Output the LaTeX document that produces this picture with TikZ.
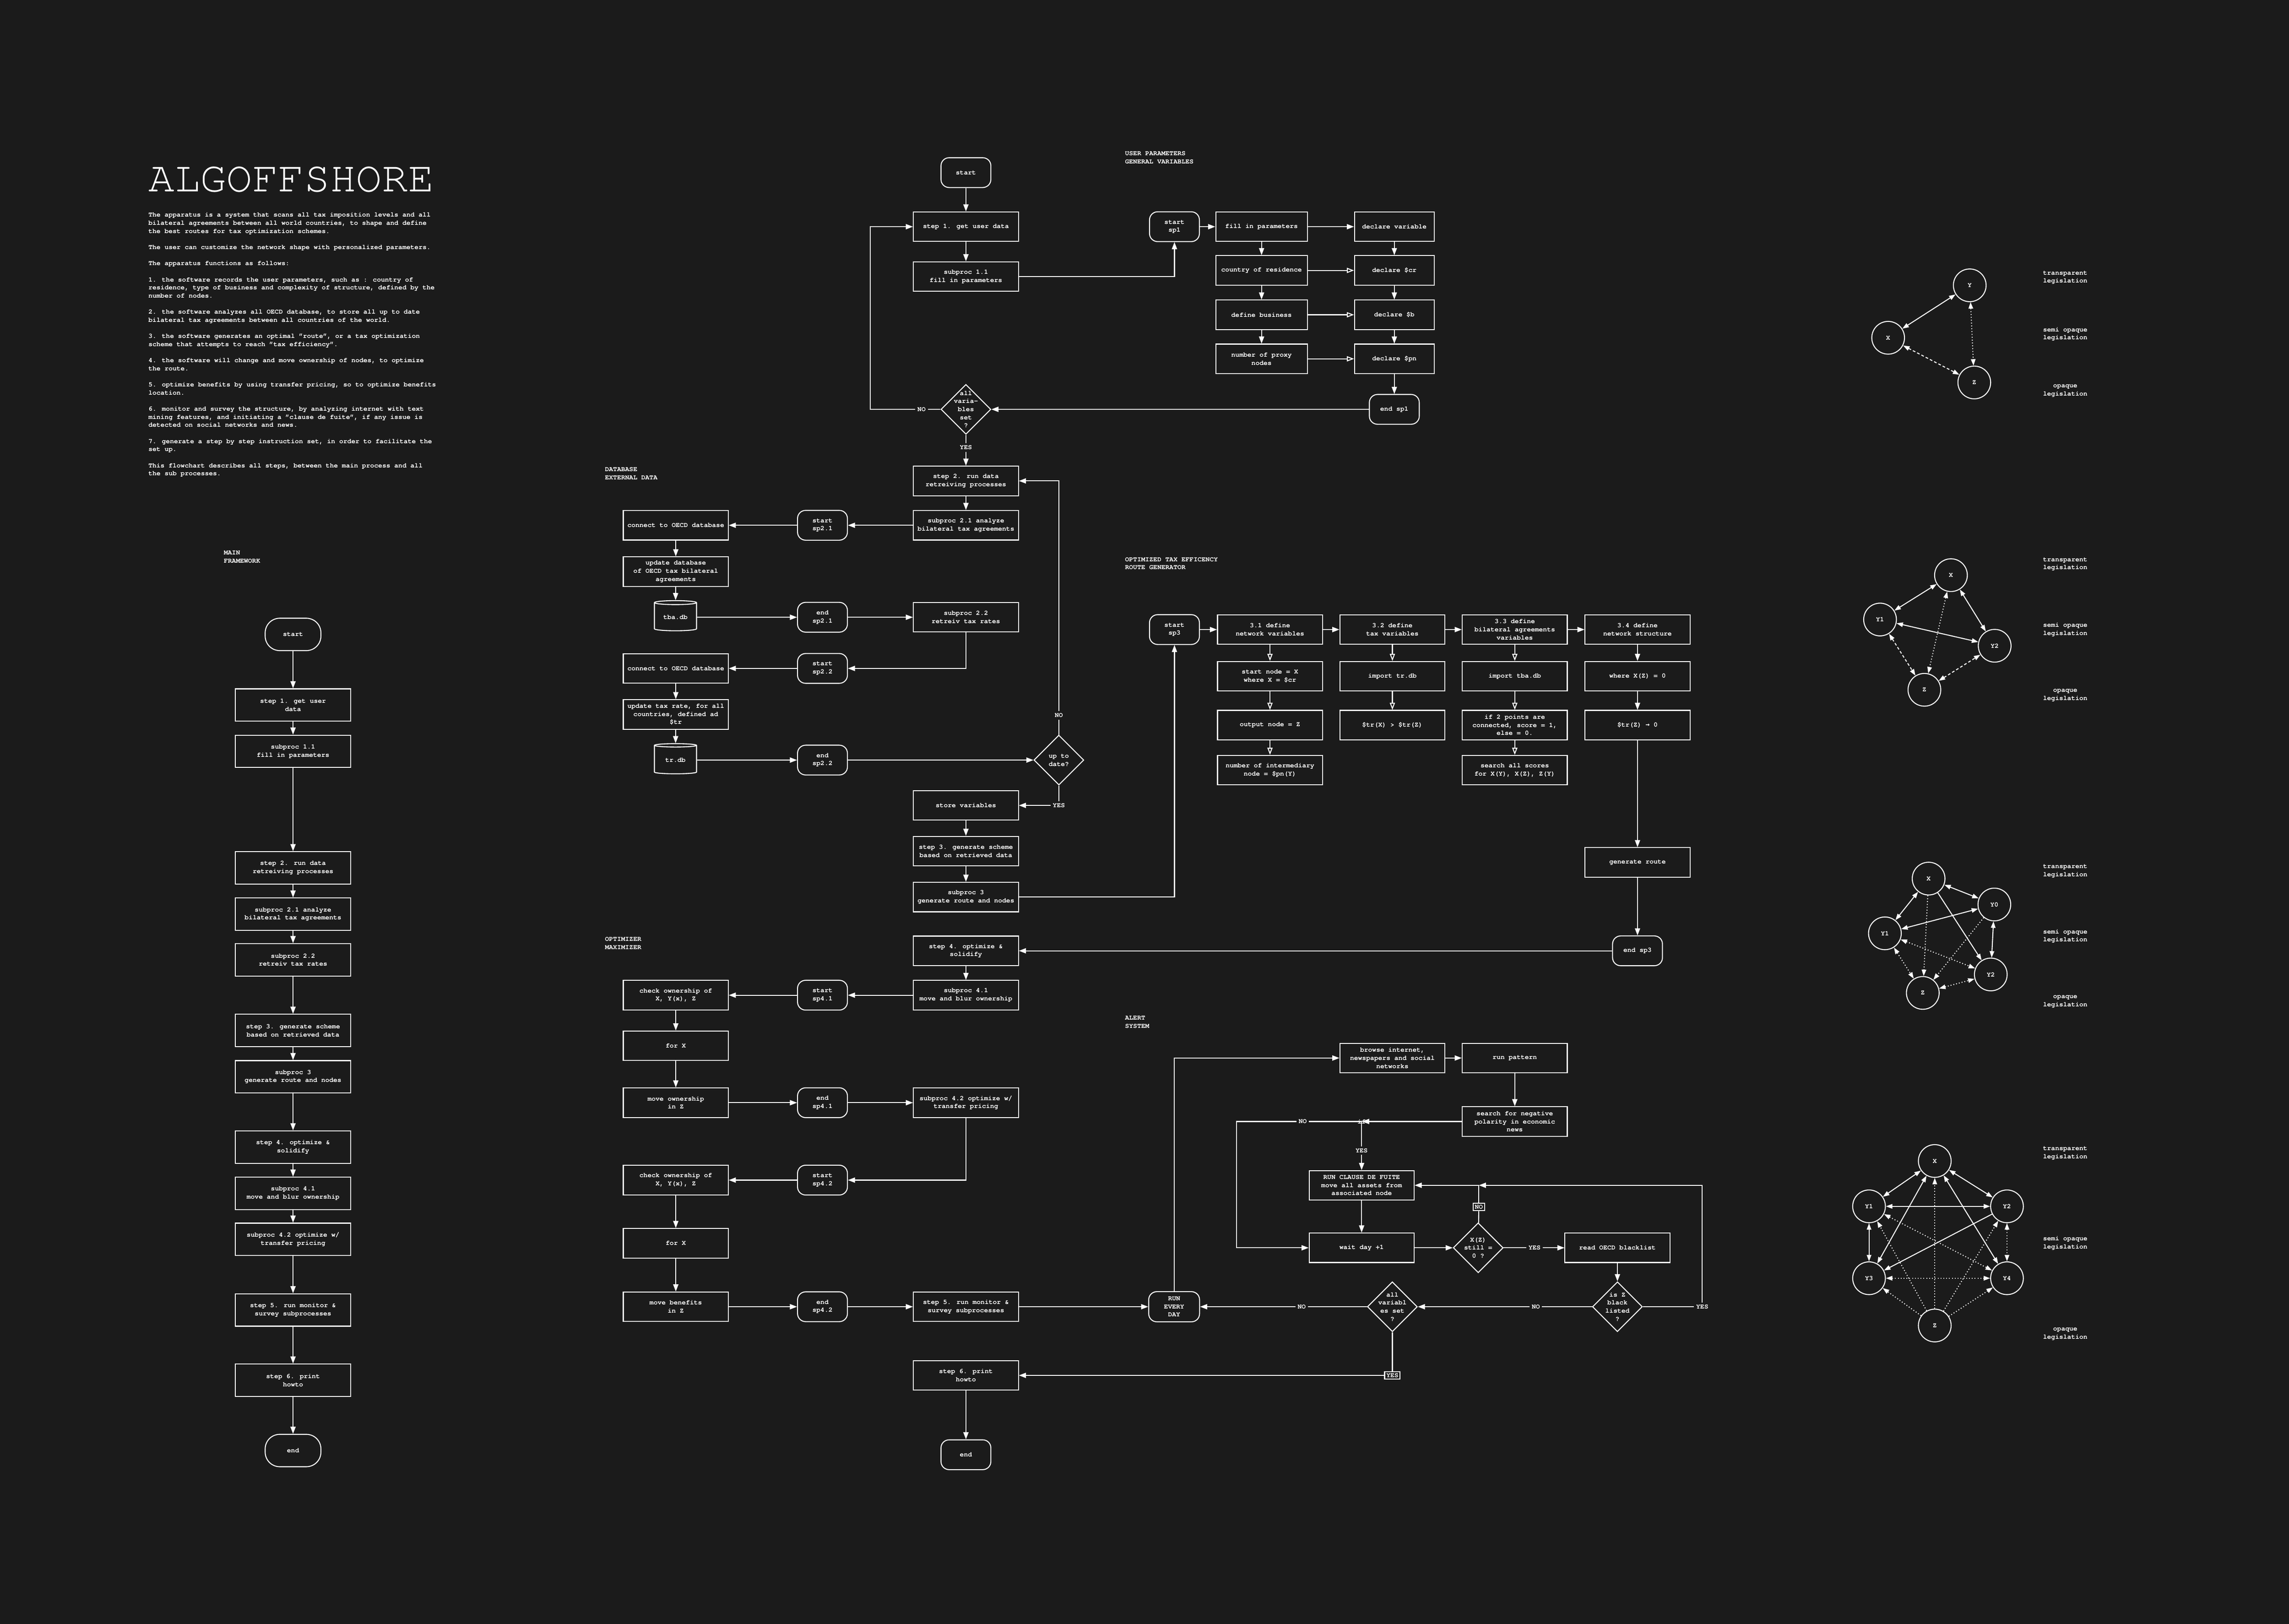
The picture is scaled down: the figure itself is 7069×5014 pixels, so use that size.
\documentclass[tikz,border=0pt]{standalone}
\usepackage{fontspec}
\setmainfont[Ligatures={NoCommon}]{TeX Gyre Cursor}
\newfontfamily\arrowfont{DejaVu Sans Mono}
\usetikzlibrary{arrows.meta,shapes.geometric}

\definecolor{bg}{RGB}{27,27,27}

\tikzset{
	box/.style={draw, rectangle, minimum width=3.24cm, minimum height=0.91cm, align=center, inner sep=1pt},
	mbox/.style={box, minimum width=3.56cm, minimum height=1cm},
	pbox/.style={box, minimum width=2.83cm},
	vbox/.style={box, minimum width=2.46cm},
	term/.style={draw, rectangle, rounded corners=0.25cm, minimum width=1.54cm, minimum height=0.92cm, align=center, inner sep=1pt},
	mterm/.style={term, rounded corners=0.45cm, minimum width=1.72cm, minimum height=1cm},
	decision/.style={draw, diamond, aspect=1, inner sep=-3pt, minimum size=1.54cm, align=center},
	db/.style={draw, cylinder, shape border rotate=90, aspect=0.15, minimum width=1.3cm, minimum height=0.93cm, inner sep=1pt},
	tag/.style={inner sep=1.5pt},
	tagbox/.style={draw, inner sep=1.5pt},
	sechead/.style={anchor=west, align=left, inner sep=0pt},
	gnode/.style={draw, circle, minimum size=1.01cm, inner sep=0pt},
	legtext/.style={align=center, inner sep=0pt},
	arr/.style={-{Triangle[length=0.22cm,width=0.16cm]}},
	oarr/.style={-{Triangle[open,length=0.22cm,width=0.16cm]}},
	oneway/.style={-{Triangle[length=0.2cm,width=0.14cm]}},
	twoway/.style={{Triangle[length=0.2cm,width=0.14cm]}-{Triangle[length=0.2cm,width=0.14cm]}},
	dotedge/.style={dash pattern=on 0.8pt off 1.7pt},
	dashedge/.style={dash pattern=on 2.4pt off 1.8pt},
}

\begin{document}
\begin{tikzpicture}[x=0.01cm, y=-0.01cm, color=white, line width=0.85pt,
	every node/.style={font=\fontsize{5.9}{7.1}\selectfont\bfseries}]

	\useasboundingbox (0,0) rectangle (7069,5014);
	\fill[bg] (0,0) rectangle (7069,5014);

	% title and description
	\node[anchor=base west, inner sep=0pt, font=\fontsize{38}{40}\selectfont] (title) at (457,591) {ALGOFFSHORE};
	\node[anchor=north west, align=left, inner sep=0pt] (about) at (457,655) {The apparatus is a system that scans all tax imposition levels and all\\
bilateral agreements between all world countries, to shape and define\\
the best routes for tax optimization schemes.\\[7.1pt]
The user can customize the network shape with personalized parameters.\\[7.1pt]
The apparatus functions as follows:\\[7.1pt]
1. the software records the user parameters, such as : country of\\
residence, type of business and complexity of structure, defined by the\\
number of nodes.\\[7.1pt]
2. the software analyzes all OECD database, to store all up to date\\
bilateral tax agreements between all countries of the world.\\[7.1pt]
3. the software generates an optimal "route", or a tax optimization\\
scheme that attempts to reach "tax efficiency".\\[7.1pt]
4. the software will change and move ownership of nodes, to optimize\\
the route.\\[7.1pt]
5. optimize benefits by using transfer pricing, so to optimize benefits\\
location.\\[7.1pt]
6. monitor and survey the structure, by analyzing internet with text\\
mining features, and initiating a "clause de fuite", if any issue is\\
detected on social networks and news.\\[7.1pt]
7. generate a step by step instruction set, in order to facilitate the\\
set up.\\[7.1pt]
This flowchart describes all steps, between the main process and all\\
the sub processes.};

	% section headings
	\node[sechead] (hmain) at (690,1720) {MAIN\\FRAMEWORK};
	\node[sechead] (huser) at (3473,487) {USER PARAMETERS\\GENERAL VARIABLES};
	\node[sechead] (hdata) at (1867,1462) {DATABASE\\EXTERNAL DATA};
	\node[sechead] (hroute) at (3473,1740) {OPTIMIZED TAX EFFICENCY\\ROUTE GENERATOR};
	\node[sechead] (hopt) at (1867,2913) {OPTIMIZER\\MAXIMIZER};
	\node[sechead] (halert) at (3473,3156) {ALERT\\SYSTEM};

	% main framework
	\node[mterm] (mstart) at (905,1959) {start};
	\node[mbox] (mst1) at (905,2177) {step 1. get user\\data};
	\node[mbox] (msub11) at (905,2320) {subproc 1.1\\fill in parameters};
	\node[mbox] (mst2) at (905,2680) {step 2. run data\\retreiving processes};
	\node[mbox] (msub21) at (905,2823) {subproc 2.1 analyze\\bilateral tax agreements};
	\node[mbox] (msub22) at (905,2964) {subproc 2.2\\retreiv tax rates};
	\node[mbox] (mst3) at (905,3182) {step 3. generate scheme\\based on retrieved data};
	\node[mbox] (msub3) at (905,3325) {subproc 3\\generate route and nodes};
	\node[mbox] (mst4) at (905,3542) {step 4. optimize \&\\solidify};
	\node[mbox] (msub41) at (905,3685) {subproc 4.1\\move and blur ownership};
	\node[mbox] (msub42) at (905,3827) {subproc 4.2 optimize w/\\transfer pricing};
	\node[mbox] (mst5) at (905,4045) {step 5. run monitor \&\\survey subprocesses};
	\node[mbox] (mst6) at (905,4262) {step 6. print\\howto};
	\node[mterm] (mend) at (905,4479) {end};

	\draw[arr] (mstart) -- (mst1);
	\draw[arr] (mst1) -- (msub11);
	\draw[arr] (msub11) -- (mst2);
	\draw[arr] (mst2) -- (msub21);
	\draw[arr] (msub21) -- (msub22);
	\draw[arr] (msub22) -- (mst3);
	\draw[arr] (mst3) -- (msub3);
	\draw[arr] (msub3) -- (mst4);
	\draw[arr] (mst4) -- (msub41);
	\draw[arr] (msub41) -- (msub42);
	\draw[arr] (msub42) -- (mst5);
	\draw[arr] (mst5) -- (mst6);
	\draw[arr] (mst6) -- (mend);

	% main process
	\node[term] (start) at (2983,533) {start};
	\node[box] (st1) at (2983,700) {step 1. get user data};
	\node[box] (sub11) at (2983,854) {subproc 1.1\\fill in parameters};
	\node[decision] (allset) at (2983,1264) {all\\varia-\\bles\\set\\?};
	\node[tag] (setno) at (2846,1264) {NO};
	\node[tag] (setyes) at (2983,1382) {YES};
	\node[box] (st2) at (2983,1485) {step 2. run data\\retreiving processes};
	\node[box] (sub21) at (2983,1622) {subproc 2.1 analyze\\bilateral tax agreements};
	\node[box] (sub22) at (2983,1906) {subproc 2.2\\retreiv tax rates};
	\node[decision] (uptodate) at (3270,2347) {up to\\date?};
	\node[tag] (dateno) at (3270,2209) {NO};
	\node[tag] (dateyes) at (3270,2487) {YES};
	\node[box] (store) at (2983,2487) {store variables};
	\node[box] (st3) at (2983,2628) {step 3. generate scheme\\based on retrieved data};
	\node[box] (sub3) at (2983,2770) {subproc 3\\generate route and nodes};
	\node[box] (st4) at (2983,2936) {step 4. optimize \&\\solidify};
	\node[box] (sub41) at (2983,3073) {subproc 4.1\\move and blur ownership};
	\node[box] (sub42) at (2983,3405) {subproc 4.2 optimize w/\\transfer pricing};
	\node[box] (st5) at (2983,4035) {step 5. run monitor \&\\survey subprocesses};
	\node[box] (st6) at (2983,4247) {step 6. print\\howto};
	\node[term] (end) at (2983,4492) {end};

	% user parameters
	\node[term] (sp1) at (3627,700) {start\\sp1};
	\node[pbox] (fill) at (3896,700) {fill in parameters};
	\node[pbox] (country) at (3896,835) {country of residence};
	\node[pbox] (business) at (3896,972) {define business};
	\node[pbox] (proxy) at (3896,1108) {number of proxy\\nodes};
	\node[vbox] (declvar) at (4306,700) {declare variable};
	\node[vbox] (declcr) at (4306,835) {declare \$cr};
	\node[vbox] (declb) at (4306,972) {declare \$b};
	\node[vbox] (declpn) at (4306,1108) {declare \$pn};
	\node[term] (endsp1) at (4306,1264) {end sp1};

	\draw[arr] (start) -- (st1);
	\draw[arr] (st1) -- (sub11);
	\draw[arr] (sub11.east) -| (sp1.south);
	\draw[arr] (sp1) -- (fill);
	\draw[arr] (fill) -- (declvar);
	\draw[arr] (fill) -- (country);
	\draw[arr] (country) -- (business);
	\draw[arr] (business) -- (proxy);
	\draw[arr] (declvar) -- (declcr);
	\draw[arr] (declcr) -- (declb);
	\draw[arr] (declb) -- (declpn);
	\draw[oarr] (country) -- (declcr);
	\draw[oarr] (business) -- (declb);
	\draw[oarr] (proxy) -- (declpn);
	\draw[arr] (declpn) -- (endsp1);
	\draw[arr] (endsp1) -- (allset);
	\draw (allset) -- (setno);
	\draw[arr] (setno.west) -- (2687,1264) |- (st1.west);
	\draw (allset) -- (setyes);
	\draw[arr] (setyes) -- (st2);

	% database
	\node[box] (con1) at (2087,1622) {connect to OECD database};
	\node[box] (upddb) at (2087,1765) {update database\\of OECD tax bilateral\\agreements};
	\node[db] (tba) at (2086,1906) {tba.db};
	\node[term] (sp21) at (2540,1622) {start\\sp2.1};
	\node[term] (endsp21) at (2540,1906) {end\\sp2.1};
	\node[box] (con2) at (2087,2064) {connect to OECD database};
	\node[box] (updtr) at (2087,2206) {update tax rate, for all\\countries, defined ad\\\$tr};
	\node[db] (trdb) at (2086,2347) {tr.db};
	\node[term] (sp22) at (2540,2064) {start\\sp2.2};
	\node[term] (endsp22) at (2540,2347) {end\\sp2.2};

	\draw[arr] (st2) -- (sub21);
	\draw[arr] (sub21) -- (sp21);
	\draw[arr] (sp21) -- (con1);
	\draw[arr] (con1) -- (upddb);
	\draw[arr] (upddb) -- (tba);
	\draw[arr] (tba) -- (endsp21);
	\draw[arr] (endsp21) -- (sub22);
	\draw[arr] (sub22.south) |- (sp22.east);
	\draw[arr] (sp22) -- (con2);
	\draw[arr] (con2) -- (updtr);
	\draw[arr] (updtr) -- (trdb);
	\draw[arr] (trdb) -- (endsp22);
	\draw[arr] (endsp22) -- (uptodate);
	\draw (uptodate) -- (dateno);
	\draw[arr] (dateno.north) |- (st2.east);
	\draw (uptodate) -- (dateyes);
	\draw[arr] (dateyes) -- (store);
	\draw[arr] (store) -- (st3);
	\draw[arr] (st3) -- (sub3);

	% route generator
	\node[term] (sp3) at (3627,1944) {start\\sp3};
	\node[box] (d31) at (3922,1944) {3.1 define\\network variables};
	\node[box] (d32) at (4300,1944) {3.2 define\\tax variables};
	\node[box] (d33) at (4678,1944) {3.3 define\\bilateral agreements\\variables};
	\node[box] (d34) at (5057,1944) {3.4 define\\network structure};
	\node[box] (xnode) at (3922,2088) {start node = X\\where X = \$cr};
	\node[box] (znode) at (3922,2239) {output node = Z};
	\node[box] (ynodes) at (3922,2378) {number of intermediary\\node = \$pn(Y)};
	\node[box] (imptr) at (4300,2088) {import tr.db};
	\node[box] (trcmp) at (4300,2239) {\$tr(X) > \$tr(Z)};
	\node[box] (imptba) at (4678,2088) {import tba.db};
	\node[box] (score) at (4678,2239) {if 2 points are\\connected, score = 1,\\else = 0.};
	\node[box] (scores) at (4678,2378) {search all scores\\for X(Y), X(Z), Z(Y)};
	\node[box] (wherez) at (5057,2088) {where X(Z) = 0};
	\node[box] (trzero) at (5057,2239) {\$tr(Z) {\arrowfont →} 0};
	\node[box] (route) at (5057,2663) {generate route};
	\node[term] (endsp3) at (5057,2936) {end sp3};

	\draw[arr] (sub3.east) -| (sp3.south);
	\draw[arr] (sp3) -- (d31);
	\draw[arr] (d31) -- (d32);
	\draw[arr] (d32) -- (d33);
	\draw[arr] (d33) -- (d34);
	\draw[oarr] (d31) -- (xnode);
	\draw[oarr] (xnode) -- (znode);
	\draw[oarr] (znode) -- (ynodes);
	\draw[oarr] (d32) -- (imptr);
	\draw[oarr] (imptr) -- (trcmp);
	\draw[oarr] (d33) -- (imptba);
	\draw[oarr] (imptba) -- (score);
	\draw[oarr] (score) -- (scores);
	\draw[arr] (d34) -- (wherez);
	\draw[arr] (wherez) -- (trzero);
	\draw[arr] (trzero) -- (route);
	\draw[arr] (route) -- (endsp3);
	\draw[arr] (endsp3) -- (st4);

	% optimizer
	\node[box] (own1) at (2087,3073) {check ownership of\\X, Y(x), Z};
	\node[box] (forx1) at (2087,3229) {for X};
	\node[box] (moveown) at (2087,3405) {move ownership\\in Z};
	\node[term] (sp41) at (2540,3073) {start\\sp4.1};
	\node[term] (endsp41) at (2540,3405) {end\\sp4.1};
	\node[box] (own2) at (2087,3644) {check ownership of\\X, Y(x), Z};
	\node[box] (forx2) at (2087,3839) {for X};
	\node[box] (moveben) at (2087,4035) {move benefits\\in Z};
	\node[term] (sp42) at (2540,3644) {start\\sp4.2};
	\node[term] (endsp42) at (2540,4035) {end\\sp4.2};

	\draw[arr] (st4) -- (sub41);
	\draw[arr] (sub41) -- (sp41);
	\draw[arr] (sp41) -- (own1);
	\draw[arr] (own1) -- (forx1);
	\draw[arr] (forx1) -- (moveown);
	\draw[arr] (moveown) -- (endsp41);
	\draw[arr] (endsp41) -- (sub42);
	\draw[arr] (sub42.south) |- (sp42.east);
	\draw[arr] (sp42) -- (own2);
	\draw[arr] (own2) -- (forx2);
	\draw[arr] (forx2) -- (moveben);
	\draw[arr] (moveben) -- (endsp42);
	\draw[arr] (endsp42) -- (st5);

	% alert system
	\node[term, minimum width=1.57cm, minimum height=0.93cm] (everyday) at (3626,4035) {RUN\\EVERY\\DAY};
	\node[box] (browse) at (4300,3267) {browse internet,\\newspapers and social\\networks};
	\node[box] (pattern) at (4678,3267) {run pattern};
	\node[box] (negative) at (4678,3463) {search for negative\\polarity in economic\\news};
	\node[decision, minimum width=0.98cm, minimum height=0.91cm, minimum size=0pt] (ifneg) at (4205,3463) {if};
	\node[tag] (ifno) at (4023,3463) {NO};
	\node[tag] (ifyes) at (4205,3553) {YES};
	\node[box] (clause) at (4205,3660) {RUN CLAUSE DE FUITE\\move all assets from\\associated node};
	\node[box] (wait) at (4205,3853) {wait day +1};
	\node[decision] (still) at (4565,3853) {X(Z)\\still =\\0 ?};
	\node[tagbox] (stillno) at (4567,3727) {NO};
	\node[tag] (stillyes) at (4739,3853) {YES};
	\node[box] (blacklist) at (4995,3853) {read OECD blacklist};
	\node[decision] (listed) at (4995,4035) {is Z\\black\\listed\\?};
	\node[tag] (listedno) at (4743,4035) {NO};
	\node[tag] (listedyes) at (5257,4035) {YES};
	\node[decision] (allvar) at (4300,4035) {all\\variabl\\es set\\?};
	\node[tag] (allvarno) at (4020,4035) {NO};
	\node[tagbox] (allvaryes) at (4300,4247) {YES};

	\draw[arr] (st5) -- (everyday);
	\draw[arr] (everyday.north) |- (browse.west);
	\draw[arr] (browse) -- (pattern);
	\draw[arr] (pattern) -- (negative);
	\draw[arr] (negative) -- (ifneg);
	\draw (ifneg) -- (ifno);
	\draw[arr] (ifno.west) -- (3818,3463) |- (wait.west);
	\draw (ifneg) -- (ifyes);
	\draw[arr] (ifyes) -- (clause);
	\draw[arr] (clause) -- (wait);
	\draw[arr] (wait) -- (still);
	\draw (still) -- (stillno);
	\draw[arr] (stillno.north) |- (clause.east);
	\draw (still) -- (stillyes);
	\draw[arr] (stillyes) -- (blacklist);
	\draw[arr] (blacklist) -- (listed);
	\draw (listed) -- (listedno);
	\draw[arr] (listedno) -- (allvar);
	\draw (listed) -- (listedyes);
	\draw[arr] (listedyes.north) |- (stillno.north |- clause.east);
	\draw (allvar) -- (allvarno);
	\draw[arr] (allvarno) -- (everyday);
	\draw (allvar) -- (allvaryes);
	\draw[arr] (allvaryes) -- (st6);
	\draw[arr] (st6) -- (end);

	% legislation graphs
	\node[gnode] (ax) at (5831,1043) {X};
	\node[gnode] (ay) at (6083,881) {Y};
	\node[gnode] (az) at (6097,1181) {Z};
	\draw[twoway] (ax) -- (ay);
	\draw[twoway, dotedge] (ay) -- (az);
	\draw[twoway, dashedge] (ax) -- (az);

	\node[gnode] (bx) at (6025,1776) {X};
	\node[gnode] (by1) at (5806,1913) {Y1};
	\node[gnode] (by2) at (6160,1994) {Y2};
	\node[gnode] (bz) at (5943,2130) {Z};
	\draw[twoway] (bx) -- (by1);
	\draw[twoway] (bx) -- (by2);
	\draw[twoway] (by1) -- (by2);
	\draw[twoway, dotedge] (bx) -- (bz);
	\draw[twoway, dashedge] (by1) -- (bz);
	\draw[twoway, dashedge] (bz) -- (by2);

	\node[gnode] (cx) at (5956,2713) {X};
	\node[gnode] (cy0) at (6159,2793) {Y0};
	\node[gnode] (cy1) at (5821,2882) {Y1};
	\node[gnode] (cy2) at (6148,3009) {Y2};
	\node[gnode] (cz) at (5938,3066) {Z};
	\draw[twoway] (cx) -- (cy0);
	\draw[twoway] (cx) -- (cy1);
	\draw[twoway] (cy0) -- (cy1);
	\draw[twoway] (cy0) -- (cy2);
	\draw[oneway] (cx) -- (cy2);
	\draw[oneway, dotedge] (cx) -- (cz);
	\draw[oneway, dotedge] (cy0) -- (cz);
	\draw[twoway, dotedge] (cy1) -- (cy2);
	\draw[twoway, dotedge] (cy1) -- (cz);
	\draw[twoway, dotedge] (cz) -- (cy2);

	\node[gnode] (dx) at (5975,3585) {X};
	\node[gnode] (dy1) at (5772,3725) {Y1};
	\node[gnode] (dy2) at (6198,3725) {Y2};
	\node[gnode] (dy3) at (5772,3947) {Y3};
	\node[gnode] (dy4) at (6198,3947) {Y4};
	\node[gnode] (dz) at (5975,4093) {Z};
	\draw[twoway] (dx) -- (dy1);
	\draw[twoway] (dx) -- (dy2);
	\draw[twoway] (dy1) -- (dy2);
	\draw[twoway] (dy1) -- (dy3);
	\draw[twoway] (dx) -- (dy3);
	\draw[twoway] (dx) -- (dy4);
	\draw[oneway] (dy2) -- (dy3);
	\draw[oneway, dotedge] (dz) -- (dx);
	\draw[oneway, dotedge] (dz) -- (dy1);
	\draw[oneway, dotedge] (dz) -- (dy2);
	\draw[oneway, dotedge] (dz) -- (dy3);
	\draw[oneway, dotedge] (dz) -- (dy4);
	\draw[twoway, dotedge] (dy1) -- (dy4);
	\draw[twoway, dotedge] (dy3) -- (dy4);
	\draw[twoway, dotedge] (dy2) -- (dy4);

	% legend texts
	\node[legtext] (at1) at (6378,857) {transparent\\legislation};
	\node[legtext] (as1) at (6378,1032) {semi opaque\\legislation};
	\node[legtext] (ao1) at (6378,1207) {opaque\\legislation};
	\node[legtext] (bt1) at (6378,1742) {transparent\\legislation};
	\node[legtext] (bs1) at (6378,1944) {semi opaque\\legislation};
	\node[legtext] (bo1) at (6378,2147) {opaque\\legislation};
	\node[legtext] (ct1) at (6378,2690) {transparent\\legislation};
	\node[legtext] (cs1) at (6378,2891) {semi opaque\\legislation};
	\node[legtext] (co1) at (6378,3093) {opaque\\legislation};
	\node[legtext] (dt1) at (6378,3561) {transparent\\legislation};
	\node[legtext] (ds1) at (6378,3839) {semi opaque\\legislation};
	\node[legtext] (do1) at (6378,4119) {opaque\\legislation};

\end{tikzpicture}
\end{document}
